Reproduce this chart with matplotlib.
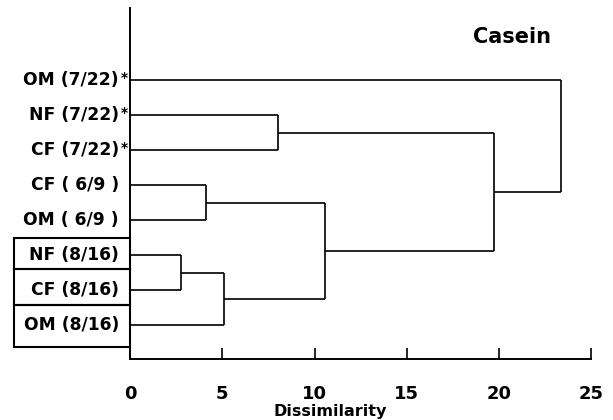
import matplotlib
matplotlib.use("Agg")
import matplotlib.pyplot as plt
from matplotlib.patches import Rectangle

# ---- data ----
labels = ["OM (7/22)", "NF (7/22)", "CF (7/22)", "CF ( 6/9 )",
          "OM ( 6/9 )", "NF (8/16)", "CF (8/16)", "OM (8/16)"]
starred = [True, True, True, False, False, False, False, False]
boxed = [False, False, False, False, False, True, True, True]
# linkage: (cluster a, cluster b, dissimilarity); new cluster ids start at 8
merge_a = [1, 3, 5, 10, 9, 8, 0]
merge_b = [2, 4, 6, 7, 11, 12, 13]
merge_h = [8.0, 4.1, 2.75, 5.1, 10.55, 19.75, 23.35]
xticks = [0, 5, 10, 15, 20, 25]
title = "Casein"
xlabel = "Dissimilarity"

plt.rcParams['font.family'] = ['DejaVu Sans']
plt.rcParams['font.weight'] = 'bold'

fig = plt.figure(figsize=(6.13, 4.2), dpi=100)
ax = fig.add_axes([130/613, 1-359/420, (591.3-130)/613, (359-8)/420])

n = len(labels)
ypos = {i: float(i) for i in range(n)}
xpos = {i: 0.0 for i in range(n)}
lw = 1.2
for k, (a, b, h) in enumerate(zip(merge_a, merge_b, merge_h)):
    ya, yb = ypos[a], ypos[b]
    ax.plot([xpos[a], h], [ya, ya], color='black', lw=lw, solid_capstyle='butt')
    ax.plot([xpos[b], h], [yb, yb], color='black', lw=lw, solid_capstyle='butt')
    ax.plot([h, h], [ya, yb], color='black', lw=lw, solid_capstyle='butt')
    cid = n + k
    ypos[cid] = (ya + yb) / 2
    xpos[cid] = h

ax.set_xlim(0, 25)
ax.set_ylim((359-80)/35, (8-80)/35)

for s in ['top', 'right']:
    ax.spines[s].set_visible(False)
for s in ['left', 'bottom']:
    ax.spines[s].set_linewidth(1.4)
ax.set_yticks([])
ax.set_xticks(xticks)
ax.set_xticklabels([str(t) for t in xticks], fontsize=13, fontweight='bold')
ax.tick_params(axis='x', direction='in', length=8, width=1.2, pad=19)

for i, lab in enumerate(labels):
    ax.annotate(lab, xy=(0, i), xytext=(-8, 0), textcoords='offset points',
                ha='right', va='center', fontsize=12.3, fontweight='bold',
                annotation_clip=False)
    if starred[i]:
        ax.annotate("*", xy=(0, i), xytext=(-6.8, 1.5), textcoords='offset points',
                    ha='left', va='center', fontsize=10, fontweight='bold',
                    annotation_clip=False)

# boxes around labels
box_edges = [(237.7-80)/35, (269.3-80)/35, (305-80)/35, (346.7-80)/35]
bi = 0
for i in range(n):
    if boxed[i]:
        y0, y1 = box_edges[bi], box_edges[bi+1]
        ax.add_patch(Rectangle(((14-130)/18.45, y0), (130-14)/18.45, y1-y0,
                               fill=False, lw=1.5, edgecolor='black', clip_on=False))
        bi += 1

ax.text(512/613, 1-37/420, title, transform=fig.transFigure, ha='center', va='center',
        fontsize=15, fontweight='bold')
fig.text(330/613, 1-411.5/420, xlabel, ha='center', va='center', fontsize=11.5,
         fontweight='bold')

fig.savefig("out.png", dpi=100)
